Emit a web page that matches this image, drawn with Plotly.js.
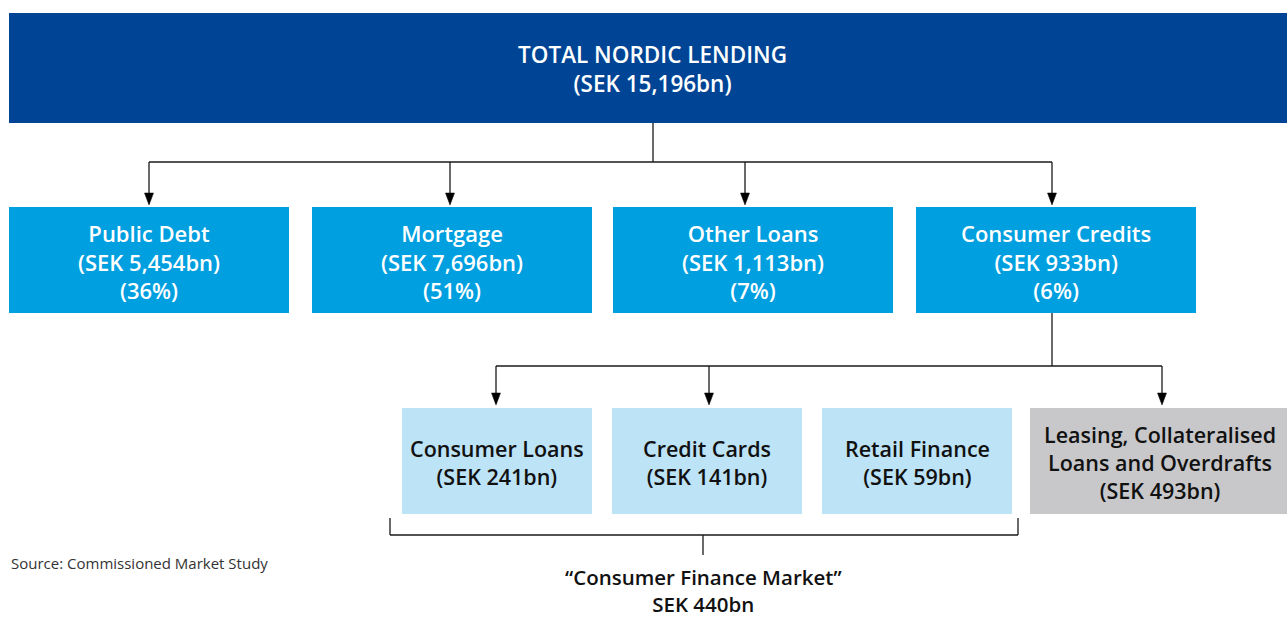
<!DOCTYPE html>
<html>
<head>
<meta charset="utf-8">
<script src="https://cdn.plot.ly/plotly-3.0.1.min.js"></script>
<style>html,body{margin:0;padding:0;background:#fff;}#chart{width:1287px;height:617px;}</style>
</head>
<body>
<div id="chart"></div>
<script>
// ---- data ----
const topLabel = 'TOTAL NORDIC LENDING';
const topValue = '15,196';
const segLabels = ['Public Debt', 'Mortgage', 'Other Loans', 'Consumer Credits'];
const segValues = ['5,454', '7,696', '1,113', '933'];
const segShares = [36, 51, 7, 6];
const subLabels = ['Consumer Loans', 'Credit Cards', 'Retail Finance', 'Leasing, Collateralised<br>Loans and Overdrafts'];
const subValues = ['241', '141', '59', '493'];
const marketLabel = '\u201cConsumer Finance Market\u201d';
const marketValue = '440';
const sourceText = 'Source: Commissioned Market Study';

// ---- layout geometry (pixel-like axes) ----
const W = 1287, H = 617;
const FONT = '"Open Sans", Lato, sans-serif';
const topBox = {x0: 9, x1: 1287, y0: 13, y1: 123};
const segX0 = [9, 312, 613, 916], segW = 280, segY0 = 207, segY1 = 313;
const segArrowX = [149, 450, 745, 1052];
const subX0 = [402, 612, 822, 1030], subX1 = [592, 802, 1012, 1287], subY0 = 408, subY1 = 514;
const subArrowX = [496, 709, 1162];
const lineColor = '#1a1a1a';

const shapes = [];
const annotations = [];

function rect(x0, x1, y0, y1, color) {
  shapes.push({type: 'rect', xref: 'x', yref: 'y', x0, x1, y0, y1, fillcolor: color, line: {width: 0}, layer: 'below'});
}
function line(x0, y0, x1, y1) {
  shapes.push({type: 'line', xref: 'x', yref: 'y', x0, y0, x1, y1, line: {color: lineColor, width: 1.3}});
}
function arrow(x, y0, y1) {
  line(x, y0, x, y1 - 10);
  shapes.push({type: 'path', xref: 'x', yref: 'y',
    path: `M ${x - 4.5} ${y1 - 12} L ${x + 4.5} ${y1 - 12} L ${x} ${y1} Z`,
    fillcolor: '#000', line: {color: '#000', width: 0.5}});
}
function text(x, y, t, size, color, opts) {
  annotations.push(Object.assign({xref: 'x', yref: 'y', x, y, text: t, showarrow: false,
    font: {family: FONT, size, color, weight: 600}, xanchor: 'center', yanchor: 'middle', align: 'center'}, opts || {}));
}

// top box
rect(topBox.x0, topBox.x1, topBox.y0, topBox.y1, '#004595');
text(652, 68.5, topLabel + '<br>(SEK ' + topValue + 'bn)', 22.5, '#ffffff');

// connector from top to level 2
line(653, topBox.y1, 653, 162);
line(segArrowX[0], 162, segArrowX[3], 162);
segArrowX.forEach(x => arrow(x, 162, 205));

// level 2 boxes
segLabels.forEach((lab, i) => {
  rect(segX0[i], segX0[i] + segW, segY0, segY1, '#009FDF');
  const cx = segX0[i] + segW / 2;
  text(cx, 261.5, lab + '<br>(SEK ' + segValues[i] + 'bn)<br>(' + segShares[i] + '%)', 22, '#ffffff');
});

// connector from Consumer Credits
line(1052, segY1, 1052, 366);
line(subArrowX[0], 366, subArrowX[2], 366);
subArrowX.forEach(x => arrow(x, 366, 405));

// level 3 boxes
subLabels.forEach((lab, i) => {
  const grey = i === 3;
  rect(subX0[i], subX1[i], subY0, subY1, grey ? '#C8C8CA' : '#BDE3F7');
  const cx = grey ? 1160 : (subX0[i] + subX1[i]) / 2;
  text(cx, grey ? 462.5 : 462, lab + '<br>(SEK ' + subValues[i] + 'bn)', 21.5, '#111111');
});

// bracket
line(390, 518, 390, 535);
line(1018, 518, 1018, 535);
line(390, 535, 1018, 535);
line(703, 535, 703, 555);
text(703, 590, marketLabel + '<br>SEK ' + marketValue + 'bn', 20.5, '#111111');

// source
annotations.push({xref: 'x', yref: 'y', x: 9, y: 563, text: sourceText, showarrow: false,
  xanchor: 'left', yanchor: 'middle', font: {family: FONT, size: 15, color: '#333333'}});

const layout = {
  width: W, height: H,
  margin: {l: 0, r: 0, t: 0, b: 0},
  paper_bgcolor: '#ffffff', plot_bgcolor: '#ffffff',
  xaxis: {range: [0, W], visible: false, fixedrange: true},
  yaxis: {range: [H, 0], visible: false, fixedrange: true},
  shapes, annotations, showlegend: false
};
Plotly.newPlot('chart', [{x: [], y: [], type: 'scatter', hoverinfo: 'skip'}], layout, {displayModeBar: false, staticPlot: true});
</script>
</body>
</html>
